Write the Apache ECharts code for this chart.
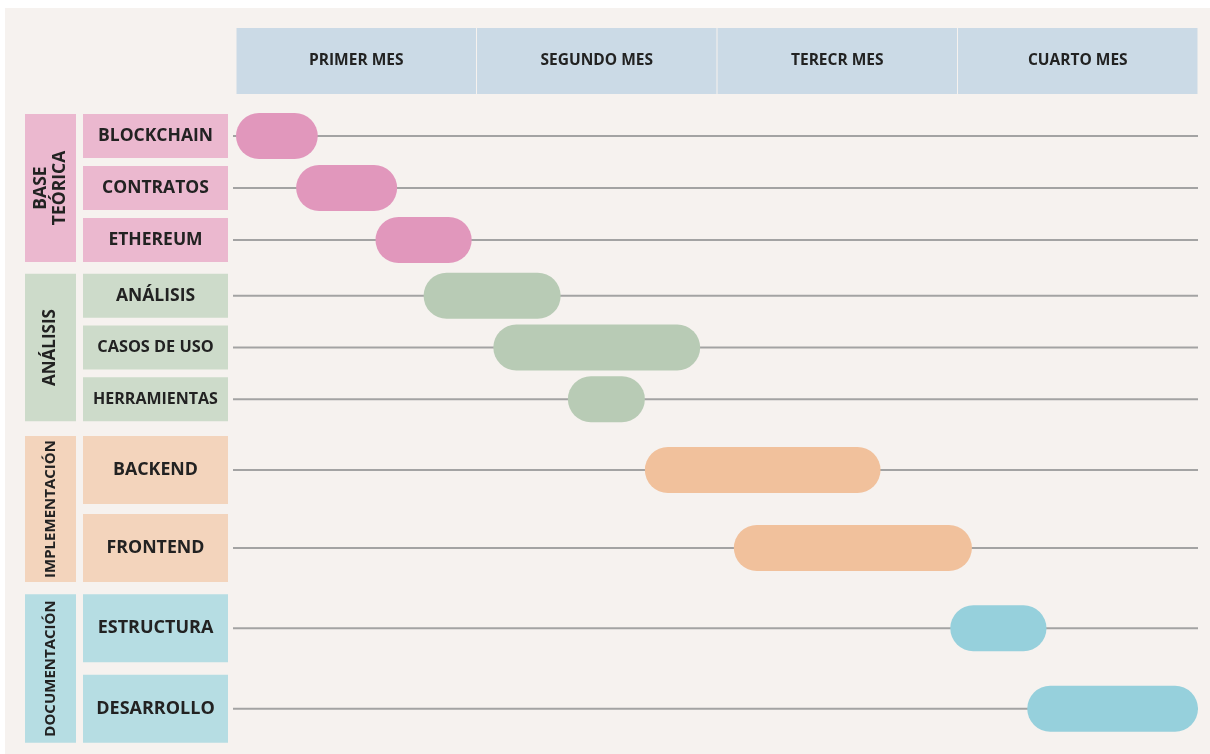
<!DOCTYPE html>
<html><head><meta charset="utf-8">
<script src="https://cdn.jsdelivr.net/npm/echarts@6/dist/echarts.min.js"></script>
<style>html,body{margin:0;padding:0;background:#fff}#c{width:1210px;height:754px}</style>
</head><body><div id="c"></div>
<script>
// ---- data ----
const months = ['PRIMER MES', 'SEGUNDO MES', 'TERECR MES', 'CUARTO MES'];
const groupNames = ['BASE\nTEÓRICA', 'ANÁLISIS', 'IMPLEMENTACIÓN', 'DOCUMENTACIÓN'];

const baseTasks = ['BLOCKCHAIN', 'CONTRATOS', 'ETHEREUM'];
const baseStart = [0.00, 0.25, 0.58];
const baseEnd   = [0.34, 0.67, 0.98];

const analisisTasks = ['ANÁLISIS', 'CASOS DE USO', 'HERRAMIENTAS'];
const analisisStart = [0.78, 1.07, 1.38];
const analisisEnd   = [1.35, 1.93, 1.70];

const implTasks = ['BACKEND', 'FRONTEND'];
const implStart = [1.70, 2.07];
const implEnd   = [2.68, 3.06];

const docTasks = ['ESTRUCTURA', 'DESARROLLO'];
const docStart = [2.97, 3.29];
const docEnd   = [3.37, 4.00];

// ---- styling ----
const FONT = '"Open Sans", "Noto Sans", sans-serif';
const groups = [
  {name: groupNames[0], tasks: baseTasks, start: baseStart, end: baseEnd, bar: '#e197bc', label: '#ebb8cf', top: 110, height: 156, boxH: 44, gfs: 17.5, fs: [17.5, 17.5, 17.5]},
  {name: groupNames[1], tasks: analisisTasks, start: analisisStart, end: analisisEnd, bar: '#b8cbb5', label: '#cddbca', top: 270, height: 155, boxH: 44, gfs: 17, fs: [17.5, 16.3, 16]},
  {name: groupNames[2], tasks: implTasks, start: implStart, end: implEnd, bar: '#f1c19c', label: '#f3d4bc', top: 431, height: 156, boxH: 68, gfs: 15, fs: [17.8, 17.8]},
  {name: groupNames[3], tasks: docTasks, start: docStart, end: docEnd, bar: '#96d0dc', label: '#b6dde3', top: 588, height: 161, boxH: 68, gfs: 15, fs: [18, 18]}
];
const LEFT = 236, RIGHT = 12;

const grid = [], xAxis = [], yAxis = [], series = [];
groups.forEach((g, gi) => {
  grid.push({left: LEFT, right: RIGHT, top: g.top, height: g.height});
  xAxis.push({type: 'value', gridIndex: gi, min: 0, max: 4, show: false});
  const rich = {};
  g.fs.forEach((f, i) => {
    rich['b' + i] = {width: 145, height: g.boxH, lineHeight: g.boxH, backgroundColor: g.label, align: 'center',
      verticalAlign: 'middle', fontFamily: FONT, fontWeight: 'bold', fontSize: f, color: '#222222'};
  });
  yAxis.push({
    type: 'category', gridIndex: gi, data: g.tasks, inverse: true,
    axisLine: {show: false}, axisTick: {show: false}, splitLine: {show: false},
    axisLabel: {
      margin: 8,
      formatter: (v, i) => '{b' + i + '|' + v + '}',
      rich
    }
  });
  // group box
  series.push({
    type: 'custom', xAxisIndex: gi, yAxisIndex: gi, clip: false, silent: true,
    data: [[0, 0]],
    renderItem: (params, api) => {
      const n = g.tasks.length;
      const y0 = api.coord([0, 0])[1] - g.boxH / 2;
      const y1 = api.coord([0, n - 1])[1] + g.boxH / 2;
      const x0 = api.coord([0, 0])[0] - 211;
      return {type: 'group', children: [
        {type: 'rect', shape: {x: x0, y: y0, width: 51, height: y1 - y0}, style: {fill: g.label}},
        {type: 'text', x: x0 + 25.5, y: (y0 + y1) / 2, rotation: Math.PI / 2,
          style: {text: g.name, align: 'center', verticalAlign: 'middle', fill: '#222222',
            font: 'bold ' + g.gfs + 'px ' + FONT, lineHeight: g.gfs + 1}}
      ]};
    }
  });
  // tasks
  series.push({
    type: 'custom', xAxisIndex: gi, yAxisIndex: gi, clip: false,
    encode: {x: [0, 1], y: 2},
    data: g.tasks.map((t, i) => [g.start[i], g.end[i], i]),
    renderItem: (params, api) => {
      const r = api.value(2);
      const a = api.coord([api.value(0), r]);
      const b = api.coord([api.value(1), r]);
      const l0 = api.coord([0, r]);
      const l1 = api.coord([4, r]);
      const h = 46;
      return {type: 'group', children: [
        {type: 'line', shape: {x1: l0[0] - 3, y1: l0[1], x2: l1[0], y2: l1[1]}, style: {stroke: '#a3a3a3', lineWidth: 2}},
        {type: 'rect', shape: {x: a[0], y: a[1] - h / 2, width: b[0] - a[0], height: h, r: h / 2}, style: {fill: g.bar}}
      ]};
    }
  });
});

// header grid
const hi = groups.length;
grid.push({left: LEFT, right: RIGHT, top: 28, height: 66});
xAxis.push({type: 'value', gridIndex: hi, min: 0, max: 4, show: false});
yAxis.push({type: 'value', gridIndex: hi, min: 0, max: 1, show: false});
series.push({
  type: 'custom', xAxisIndex: hi, yAxisIndex: hi, clip: false, silent: true,
  data: months.map((m, i) => [i, i + 1]),
  renderItem: (params, api) => {
    const a = api.coord([api.value(0), 1]);
    const b = api.coord([api.value(1), 0]);
    return {type: 'group', children: [
      {type: 'rect', shape: {x: a[0] + 0.5, y: a[1], width: b[0] - a[0] - 1, height: b[1] - a[1]}, style: {fill: '#cbdae6'}},
      {type: 'text', x: (a[0] + b[0]) / 2, y: (a[1] + b[1]) / 2,
        style: {text: months[params.dataIndex], align: 'center', verticalAlign: 'middle', fill: '#222222', font: 'bold 15.5px ' + FONT}}
    ]};
  }
});

const chart = echarts.init(document.getElementById('c'), null, {renderer: 'canvas'});
chart.setOption({
  backgroundColor: '#ffffff',
  animation: false,
  graphic: [{type: 'rect', left: 5, top: 8, shape: {width: 1205, height: 746}, style: {fill: '#f6f2ef'}, z: -10, silent: true}],
  grid, xAxis, yAxis, series
});
</script></body></html>
